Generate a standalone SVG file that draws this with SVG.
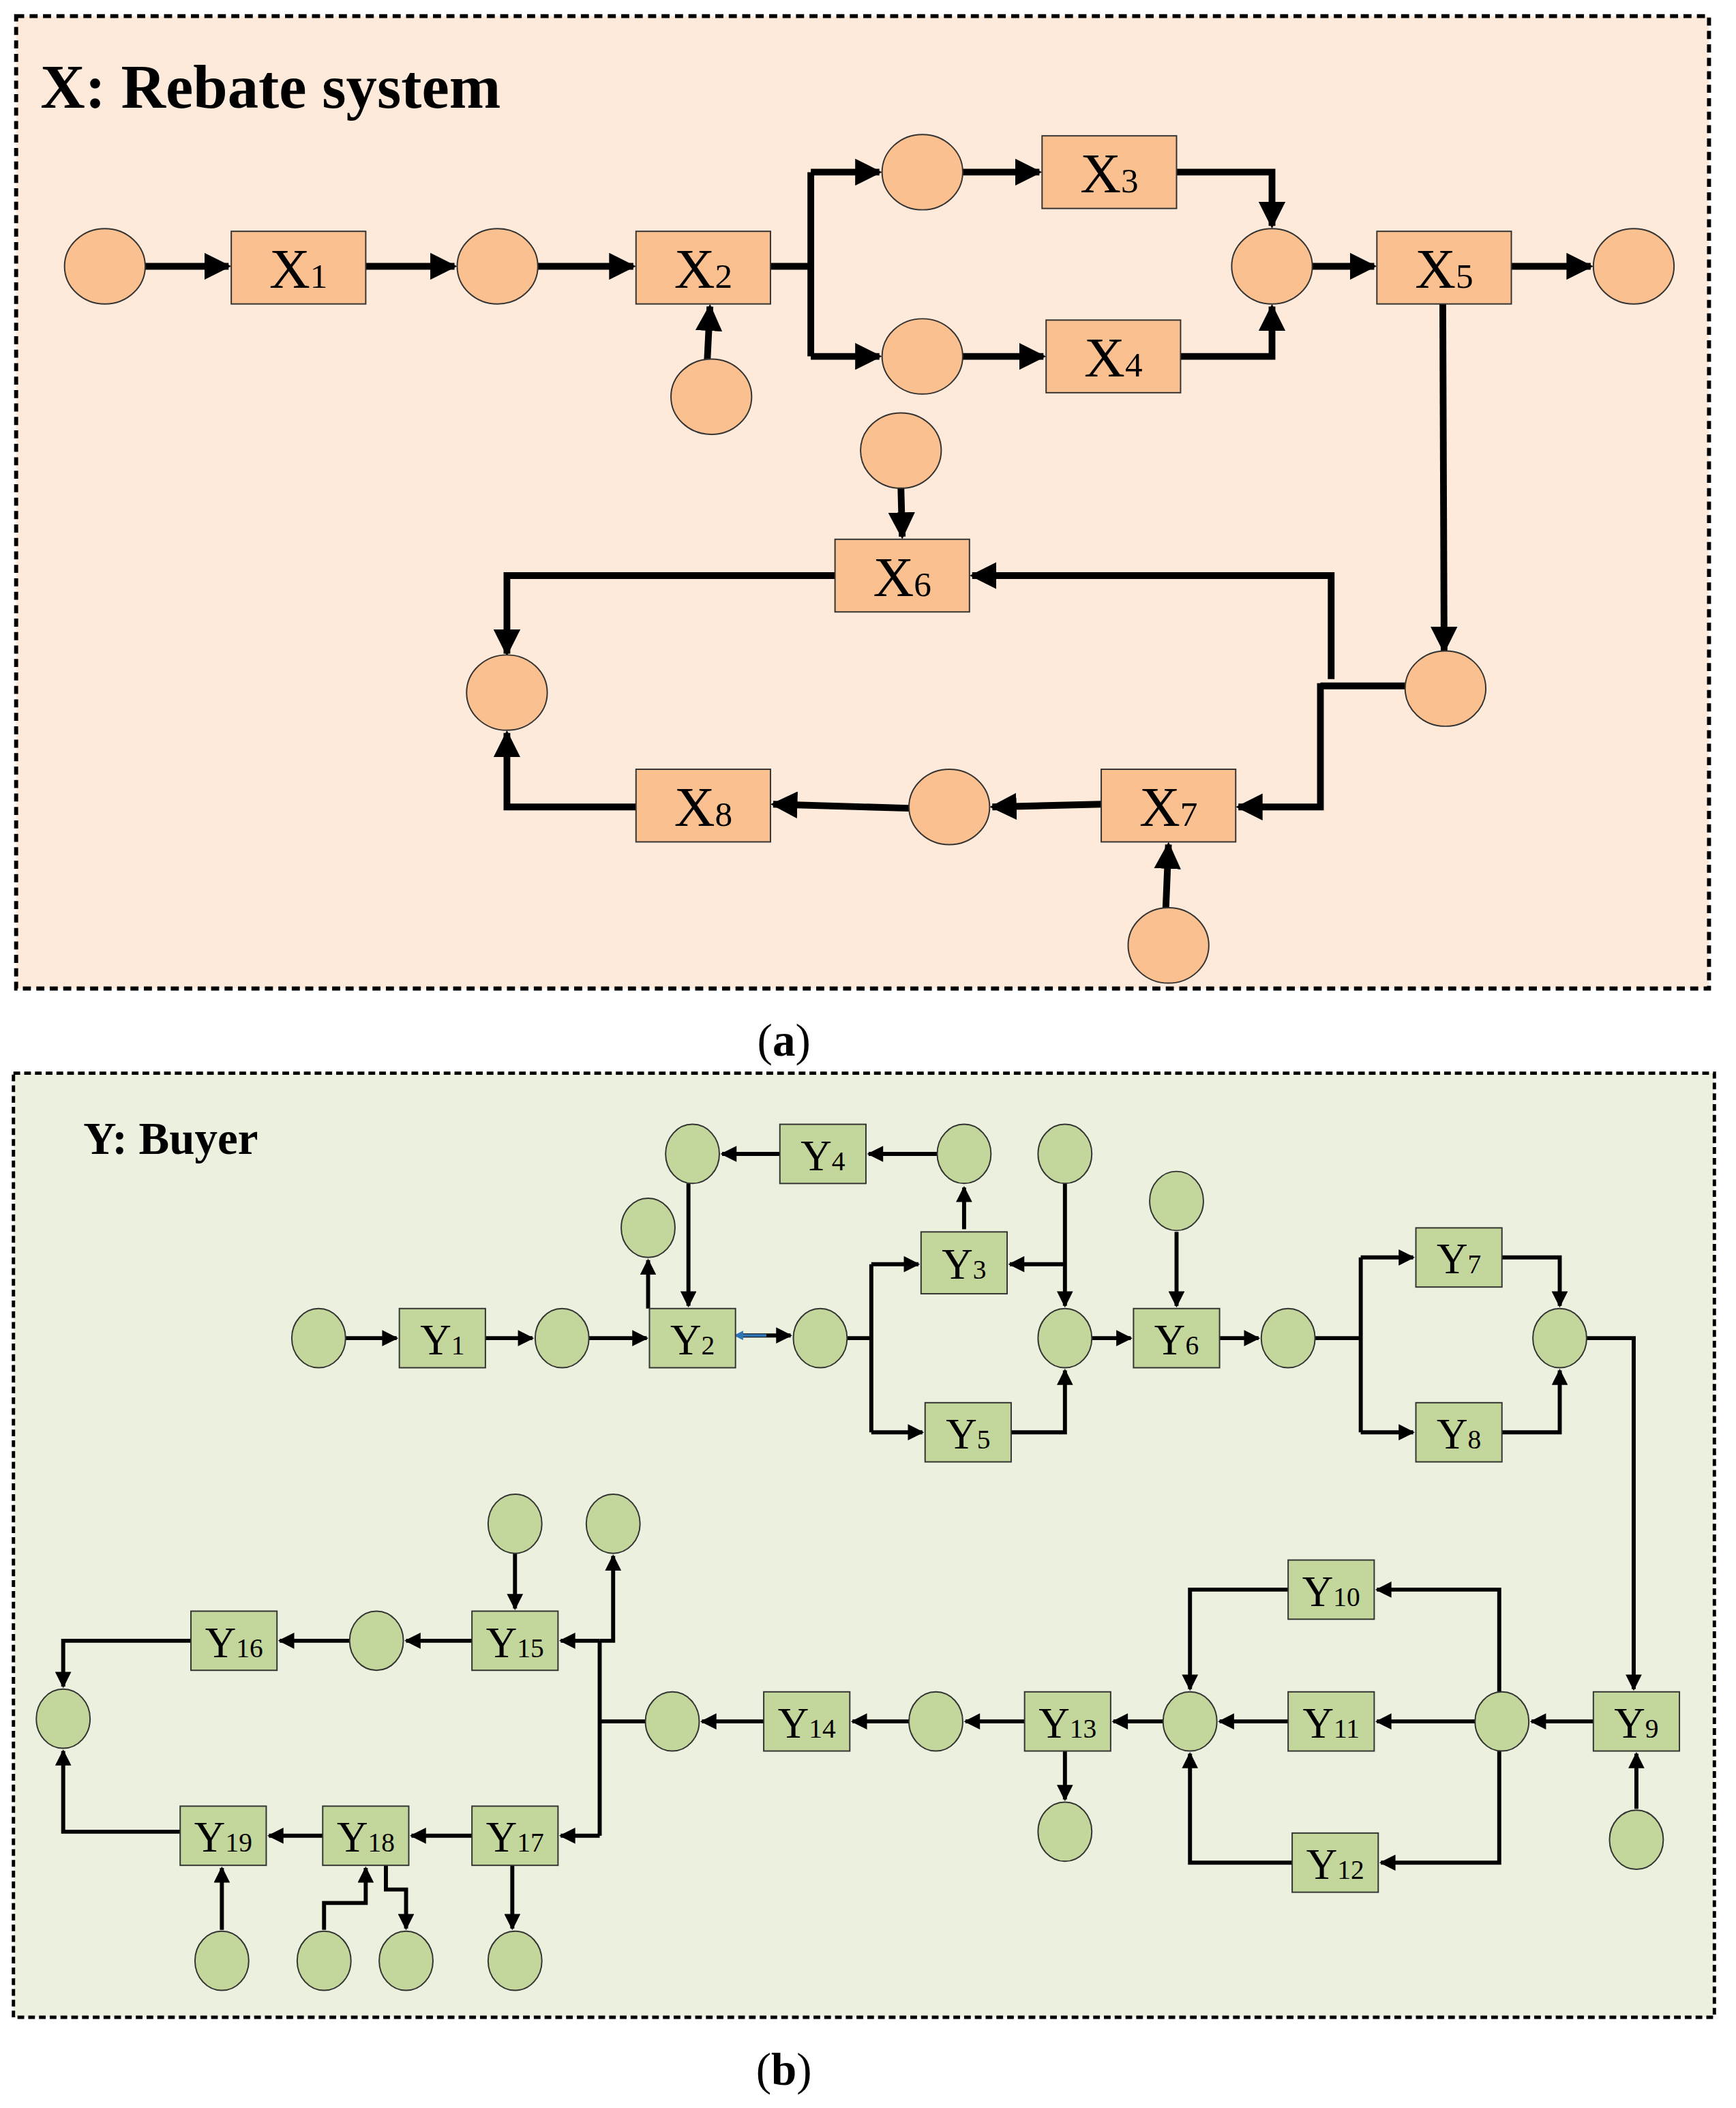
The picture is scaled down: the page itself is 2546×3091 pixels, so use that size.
<svg xmlns="http://www.w3.org/2000/svg" width="2546" height="3091" viewBox="0 0 2546 3091">
<defs>
<marker id="ma" viewBox="0 0 10 10" refX="9" refY="5" markerWidth="4" markerHeight="4" orient="auto"><path d="M0,0 L10,5 L0,10 z" fill="#000"/></marker>
<marker id="mb" viewBox="0 0 10 10" refX="9" refY="5" markerWidth="4.5" markerHeight="4" orient="auto"><path d="M0,0 L10,5 L0,10 z" fill="#000"/></marker>
<marker id="mblue" viewBox="0 0 10 10" refX="1" refY="5" markerWidth="4" markerHeight="3.5" orient="auto-start-reverse"><path d="M0,0 L10,5 L0,10 z" fill="#2E75B6"/></marker>
<style>
.ea{fill:#FAC090;stroke:#333;stroke-width:1}
.ra{fill:#FAC090;stroke:#333;stroke-width:1}
.eb{fill:#C3D69B;stroke:#333;stroke-width:1}
.rb{fill:#C3D69B;stroke:#333;stroke-width:1}
.ca{fill:none;stroke:#000;stroke-width:5}
.cb{fill:none;stroke:#000;stroke-width:3}
.la{font-family:"Liberation Serif",serif;font-size:42px;text-anchor:middle}
.lb{font-family:"Liberation Serif",serif;font-size:32px;text-anchor:middle}
.s{font-size:26px}
.sb{font-size:20px}
</style>
</defs>
<g transform="scale(1.972)">
<rect x="12" y="12" width="1259" height="723" fill="#FDEADA" stroke="#000" stroke-width="3" stroke-dasharray="6,4"/>
<text x="30" y="80" font-family="Liberation Serif,serif" font-size="46" font-weight="bold">X: Rebate system</text>
<text x="583" y="785" font-family="Liberation Serif,serif" font-size="34" text-anchor="middle">(<tspan font-weight="bold">a</tspan>)</text>

<g id="connectors-a" class="ca">
<path d="M108,198 H170" marker-end="url(#ma)"/>
<path d="M272,198 H338" marker-end="url(#ma)"/>
<path d="M400,198 H471" marker-end="url(#ma)"/>
<path d="M573,198 H603 M603,128 V265"/>
<path d="M603,128 H654" marker-end="url(#ma)"/>
<path d="M603,265 H654" marker-end="url(#ma)"/>
<path d="M716,128 H773" marker-end="url(#ma)"/>
<path d="M716,265 H776" marker-end="url(#ma)"/>
<path d="M875,128 H946 V168" marker-end="url(#ma)"/>
<path d="M878,265 H946 V228" marker-end="url(#ma)"/>
<path d="M976,198 H1022" marker-end="url(#ma)"/>
<path d="M1124,198 H1183" marker-end="url(#ma)"/>
<path d="M526,268 L528,228" marker-end="url(#ma)"/>
<path d="M1073,226 L1074,484" marker-end="url(#ma)"/>
<path d="M1045,510 H982"/>
<path d="M990,505 V428 H723" marker-end="url(#ma)"/>
<path d="M982,508 V600 H921" marker-end="url(#ma)"/>
<path d="M670,362 L671,399" marker-end="url(#ma)"/>
<path d="M621,428 H377 V486" marker-end="url(#ma)"/>
<path d="M819,598 L738,600" marker-end="url(#ma)"/>
<path d="M676,601 L575,598" marker-end="url(#ma)"/>
<path d="M473,600 H377 V545" marker-end="url(#ma)"/>
<path d="M867,676 L869,628" marker-end="url(#ma)"/>
</g>

<g id="a-e1"><ellipse class="ea" cx="78" cy="198" rx="30" ry="28"/></g>
<g id="a-X1"><rect class="ra" x="172" y="172" width="100" height="54"/><text class="la" x="222" y="214">X<tspan class="s">1</tspan></text></g>
<g id="a-e2"><ellipse class="ea" cx="370" cy="198" rx="30" ry="28"/></g>
<g id="a-X2"><rect class="ra" x="473" y="172" width="100" height="54"/><text class="la" x="523" y="214">X<tspan class="s">2</tspan></text></g>
<g id="a-e3"><ellipse class="ea" cx="529" cy="295" rx="30" ry="28"/></g>
<g id="a-e4"><ellipse class="ea" cx="686" cy="128" rx="30" ry="28"/></g>
<g id="a-X3"><rect class="ra" x="775" y="101" width="100" height="54"/><text class="la" x="825" y="143">X<tspan class="s">3</tspan></text></g>
<g id="a-e5"><ellipse class="ea" cx="686" cy="265" rx="30" ry="28"/></g>
<g id="a-X4"><rect class="ra" x="778" y="238" width="100" height="54"/><text class="la" x="828" y="280">X<tspan class="s">4</tspan></text></g>
<g id="a-e6"><ellipse class="ea" cx="946" cy="198" rx="30" ry="28"/></g>
<g id="a-X5"><rect class="ra" x="1024" y="172" width="100" height="54"/><text class="la" x="1074" y="214">X<tspan class="s">5</tspan></text></g>
<g id="a-e7"><ellipse class="ea" cx="1215" cy="198" rx="30" ry="28"/></g>
<g id="a-e8"><ellipse class="ea" cx="670" cy="335" rx="30" ry="28"/></g>
<g id="a-X6"><rect class="ra" x="621" y="401" width="100" height="54"/><text class="la" x="671" y="443">X<tspan class="s">6</tspan></text></g>
<g id="a-e9"><ellipse class="ea" cx="377" cy="515" rx="30" ry="28"/></g>
<g id="a-e10"><ellipse class="ea" cx="1075" cy="512" rx="30" ry="28"/></g>
<g id="a-X8"><rect class="ra" x="473" y="572" width="100" height="54"/><text class="la" x="523" y="614">X<tspan class="s">8</tspan></text></g>
<g id="a-e11"><ellipse class="ea" cx="706" cy="600" rx="30" ry="28"/></g>
<g id="a-X7"><rect class="ra" x="819" y="572" width="100" height="54"/><text class="la" x="869" y="614">X<tspan class="s">7</tspan></text></g>
<g id="a-e12"><ellipse class="ea" cx="869" cy="703" rx="30" ry="28"/></g>

<rect x="10" y="798" width="1265" height="702" fill="#EBF1DE" stroke="#000" stroke-width="2.5" stroke-dasharray="5,3"/>
<text x="62" y="858" font-family="Liberation Serif,serif" font-size="34" font-weight="bold">Y: Buyer</text>
<text x="583" y="1550" font-family="Liberation Serif,serif" font-size="34" text-anchor="middle">(<tspan font-weight="bold">b</tspan>)</text>

<g id="connectors-b" class="cb">
<path d="M257,995 H295" marker-end="url(#mb)"/>
<path d="M361,995 H396" marker-end="url(#mb)"/>
<path d="M438,995 H481" marker-end="url(#mb)"/>
<path d="M482,973 V937" marker-end="url(#mb)"/>
<path d="M512,880 V971" marker-end="url(#mb)"/>
<path d="M697,858 H646" marker-end="url(#mb)"/>
<path d="M580,858 H537" marker-end="url(#mb)"/>
<path d="M717,914 V883" marker-end="url(#mb)"/>
<path d="M792,880 V971" marker-end="url(#mb)"/>
<path d="M792,940 H751" marker-end="url(#mb)"/>
<path d="M552,993 H588" marker-end="url(#mb)"/>
<path d="M552,993 H570" stroke="#2E75B6" stroke-width="2" marker-start="url(#mblue)"/>
<path d="M630,995 H648 M648,940 V1065"/>
<path d="M648,940 H683" marker-end="url(#mb)"/>
<path d="M648,1065 H686" marker-end="url(#mb)"/>
<path d="M752,1065 H792 V1019" marker-end="url(#mb)"/>
<path d="M812,995 H841" marker-end="url(#mb)"/>
<path d="M875,916 V971" marker-end="url(#mb)"/>
<path d="M907,995 H936" marker-end="url(#mb)"/>
<path d="M978,995 H1012 M1012,935 V1065"/>
<path d="M1012,935 H1051" marker-end="url(#mb)"/>
<path d="M1012,1065 H1051" marker-end="url(#mb)"/>
<path d="M1117,935 H1160 V971" marker-end="url(#mb)"/>
<path d="M1117,1065 H1160 V1019" marker-end="url(#mb)"/>
<path d="M1180,995 H1215 V1256" marker-end="url(#mb)"/>
<path d="M1217,1345 V1304" marker-end="url(#mb)"/>
<path d="M1185,1280 H1139" marker-end="url(#mb)"/>
<path d="M1115,1258 V1182 H1024" marker-end="url(#mb)"/>
<path d="M958,1182 H885 V1256" marker-end="url(#mb)"/>
<path d="M1097,1280 H1024" marker-end="url(#mb)"/>
<path d="M958,1280 H907" marker-end="url(#mb)"/>
<path d="M1115,1302 V1385 H1027" marker-end="url(#mb)"/>
<path d="M961,1385 H885 V1304" marker-end="url(#mb)"/>
<path d="M865,1280 H828" marker-end="url(#mb)"/>
<path d="M792,1302 V1338" marker-end="url(#mb)"/>
<path d="M762,1280 H718" marker-end="url(#mb)"/>
<path d="M676,1280 H634" marker-end="url(#mb)"/>
<path d="M568,1280 H522" marker-end="url(#mb)"/>
<path d="M480,1280 H446 M446,1220 V1365"/>
<path d="M446,1220 H417" marker-end="url(#mb)"/>
<path d="M446,1220 H456 V1157" marker-end="url(#mb)"/>
<path d="M446,1365 H417" marker-end="url(#mb)"/>
<path d="M383,1155 V1196" marker-end="url(#mb)"/>
<path d="M351,1220 H302" marker-end="url(#mb)"/>
<path d="M260,1220 H208" marker-end="url(#mb)"/>
<path d="M142,1220 H47 V1254" marker-end="url(#mb)"/>
<path d="M134,1362 H47 V1302" marker-end="url(#mb)"/>
<path d="M351,1365 H306" marker-end="url(#mb)"/>
<path d="M240,1365 H200" marker-end="url(#mb)"/>
<path d="M381,1387 V1434" marker-end="url(#mb)"/>
<path d="M165,1435 V1389" marker-end="url(#mb)"/>
<path d="M241,1435 V1415 H272 V1389" marker-end="url(#mb)"/>
<path d="M287,1387 V1405 H302 V1434" marker-end="url(#mb)"/>
</g>

<g id="b-e1"><ellipse class="eb" cx="237" cy="995" rx="20" ry="22"/></g>
<g id="b-Y1"><rect class="rb" x="297" y="973" width="64" height="44"/><text class="lb" x="329" y="1007">Y<tspan class="sb">1</tspan></text></g>
<g id="b-e2"><ellipse class="eb" cx="418" cy="995" rx="20" ry="22"/></g>
<g id="b-Y2"><rect class="rb" x="483" y="973" width="64" height="44"/><text class="lb" x="515" y="1007">Y<tspan class="sb">2</tspan></text></g>
<g id="b-e3"><ellipse class="eb" cx="610" cy="995" rx="20" ry="22"/></g>
<g id="b-e4"><ellipse class="eb" cx="482" cy="913" rx="20" ry="22"/></g>
<g id="b-e5"><ellipse class="eb" cx="515" cy="858" rx="20" ry="22"/></g>
<g id="b-Y4"><rect class="rb" x="580" y="836" width="64" height="44"/><text class="lb" x="612" y="870">Y<tspan class="sb">4</tspan></text></g>
<g id="b-e6"><ellipse class="eb" cx="717" cy="858" rx="20" ry="22"/></g>
<g id="b-Y3"><rect class="rb" x="685" y="916" width="64" height="46"/><text class="lb" x="717" y="951">Y<tspan class="sb">3</tspan></text></g>
<g id="b-e7"><ellipse class="eb" cx="792" cy="858" rx="20" ry="22"/></g>
<g id="b-e8"><ellipse class="eb" cx="792" cy="995" rx="20" ry="22"/></g>
<g id="b-Y5"><rect class="rb" x="688" y="1043" width="64" height="44"/><text class="lb" x="720" y="1077">Y<tspan class="sb">5</tspan></text></g>
<g id="b-e9"><ellipse class="eb" cx="875" cy="893" rx="20" ry="22"/></g>
<g id="b-Y6"><rect class="rb" x="843" y="973" width="64" height="44"/><text class="lb" x="875" y="1007">Y<tspan class="sb">6</tspan></text></g>
<g id="b-e10"><ellipse class="eb" cx="958" cy="995" rx="20" ry="22"/></g>
<g id="b-Y7"><rect class="rb" x="1053" y="913" width="64" height="44"/><text class="lb" x="1085" y="947">Y<tspan class="sb">7</tspan></text></g>
<g id="b-Y8"><rect class="rb" x="1053" y="1043" width="64" height="44"/><text class="lb" x="1085" y="1077">Y<tspan class="sb">8</tspan></text></g>
<g id="b-e11"><ellipse class="eb" cx="1160" cy="995" rx="20" ry="22"/></g>
<g id="b-Y9"><rect class="rb" x="1185" y="1258" width="64" height="44"/><text class="lb" x="1217" y="1292">Y<tspan class="sb">9</tspan></text></g>
<g id="b-e12"><ellipse class="eb" cx="1217" cy="1368" rx="20" ry="22"/></g>
<g id="b-e13"><ellipse class="eb" cx="1117" cy="1280" rx="20" ry="22"/></g>
<g id="b-Y10"><rect class="rb" x="958" y="1160" width="64" height="44"/><text class="lb" x="990" y="1194">Y<tspan class="sb">10</tspan></text></g>
<g id="b-Y11"><rect class="rb" x="958" y="1258" width="64" height="44"/><text class="lb" x="990" y="1292">Y<tspan class="sb">11</tspan></text></g>
<g id="b-Y12"><rect class="rb" x="961" y="1363" width="64" height="44"/><text class="lb" x="993" y="1397">Y<tspan class="sb">12</tspan></text></g>
<g id="b-e14"><ellipse class="eb" cx="885" cy="1280" rx="20" ry="22"/></g>
<g id="b-Y13"><rect class="rb" x="762" y="1258" width="64" height="44"/><text class="lb" x="794" y="1292">Y<tspan class="sb">13</tspan></text></g>
<g id="b-e15"><ellipse class="eb" cx="792" cy="1362" rx="20" ry="22"/></g>
<g id="b-e16"><ellipse class="eb" cx="696" cy="1280" rx="20" ry="22"/></g>
<g id="b-Y14"><rect class="rb" x="568" y="1258" width="64" height="44"/><text class="lb" x="600" y="1292">Y<tspan class="sb">14</tspan></text></g>
<g id="b-e17"><ellipse class="eb" cx="500" cy="1280" rx="20" ry="22"/></g>
<g id="b-e18"><ellipse class="eb" cx="383" cy="1133" rx="20" ry="22"/></g>
<g id="b-e19"><ellipse class="eb" cx="456" cy="1133" rx="20" ry="22"/></g>
<g id="b-Y15"><rect class="rb" x="351" y="1198" width="64" height="44"/><text class="lb" x="383" y="1232">Y<tspan class="sb">15</tspan></text></g>
<g id="b-e20"><ellipse class="eb" cx="280" cy="1220" rx="20" ry="22"/></g>
<g id="b-Y16"><rect class="rb" x="142" y="1198" width="64" height="44"/><text class="lb" x="174" y="1232">Y<tspan class="sb">16</tspan></text></g>
<g id="b-e21"><ellipse class="eb" cx="47" cy="1278" rx="20" ry="22"/></g>
<g id="b-Y17"><rect class="rb" x="351" y="1343" width="64" height="44"/><text class="lb" x="383" y="1377">Y<tspan class="sb">17</tspan></text></g>
<g id="b-Y18"><rect class="rb" x="240" y="1343" width="64" height="44"/><text class="lb" x="272" y="1377">Y<tspan class="sb">18</tspan></text></g>
<g id="b-Y19"><rect class="rb" x="134" y="1343" width="64" height="44"/><text class="lb" x="166" y="1377">Y<tspan class="sb">19</tspan></text></g>
<g id="b-e22"><ellipse class="eb" cx="165" cy="1458" rx="20" ry="22"/></g>
<g id="b-e23"><ellipse class="eb" cx="241" cy="1458" rx="20" ry="22"/></g>
<g id="b-e24"><ellipse class="eb" cx="302" cy="1458" rx="20" ry="22"/></g>
<g id="b-e25"><ellipse class="eb" cx="383" cy="1458" rx="20" ry="22"/></g>
</g>
</svg>
